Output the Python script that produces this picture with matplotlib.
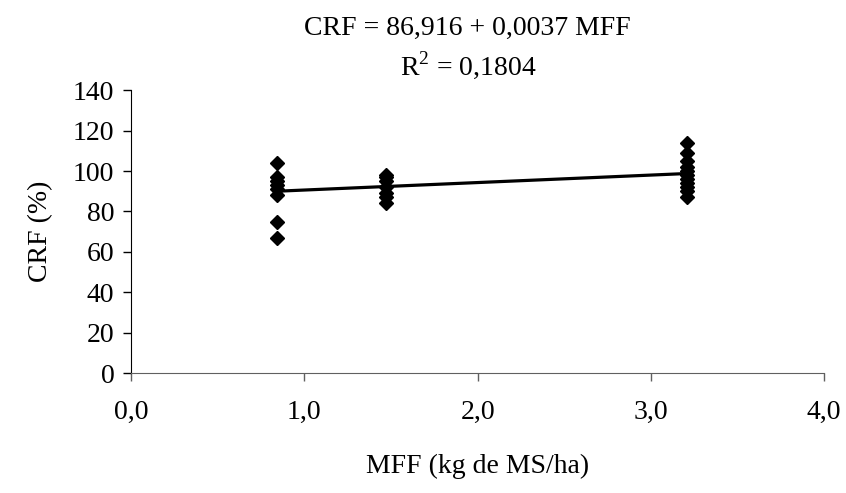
import numpy as np
import matplotlib.pyplot as plt

plt.rcParams['font.family'] = ['Liberation Serif', 'DejaVu Serif']
plt.rcParams['mathtext.fontset'] = 'custom'
plt.rcParams['mathtext.rm'] = 'Liberation Serif'

# MFF (t de MS/ha) levels and observed CRF (%) values
mff_1 = 0.84
crf_1 = [104, 97, 95, 93, 91, 88, 75, 67]
mff_2 = 1.47
crf_2 = [98, 97, 95, 92, 89, 87, 84]
mff_3 = 3.21
crf_3 = [114, 109, 105, 102, 100, 98, 96, 94, 92, 90, 87]

# trend line given on the chart: CRF = 86,916 + 0,0037 MFF (MFF in kg)
intercept = 86.916
slope = 0.0037

xticks = [0, 1, 2, 3, 4]
xticklabels = ["0,0", "1,0", "2,0", "3,0", "4,0"]
yticks = [0, 20, 40, 60, 80, 100, 120, 140]

x = np.concatenate([[mff_1] * len(crf_1), [mff_2] * len(crf_2), [mff_3] * len(crf_3)])
y = np.concatenate([crf_1, crf_2, crf_3])

fig = plt.figure(figsize=(8.46, 4.93), dpi=100)
ax = fig.add_axes([0.155, 0.243, 0.819, 0.574])

ax.plot(x, y, linestyle="none", marker="D", markersize=7.5, color="black", zorder=3)
xl = np.array([x.min(), x.max()])
ax.plot(xl, intercept + slope * xl * 1000, color="black", linewidth=2.3, zorder=2)

ax.set_xlim(0, 4)
ax.set_ylim(0, 140)
ax.set_xticks(xticks)
ax.set_xticklabels(xticklabels)
ax.set_yticks(yticks)
for s in ["top", "right"]:
    ax.spines[s].set_visible(False)
ax.spines["left"].set_color("black")
ax.spines["bottom"].set_color("#606060")
ax.tick_params(axis="both", direction="out", length=6, width=1, labelsize=20, colors="black")
ax.tick_params(axis="x", pad=13, color="#606060")
ax.tick_params(axis="y", pad=6)

ax.set_xlabel("MFF (kg de MS/ha)", fontsize=20, labelpad=21)
ax.set_ylabel("CRF (%)", fontsize=20, labelpad=14)

fig.text(0.553, 0.943, "CRF = 86,916 + 0,0037 MFF", ha="center", va="center", fontsize=20)
fig.text(0.553, 0.868, "R$^2$ = 0,1804", ha="center", va="center", fontsize=20)

fig.savefig("out.png", dpi=100)
